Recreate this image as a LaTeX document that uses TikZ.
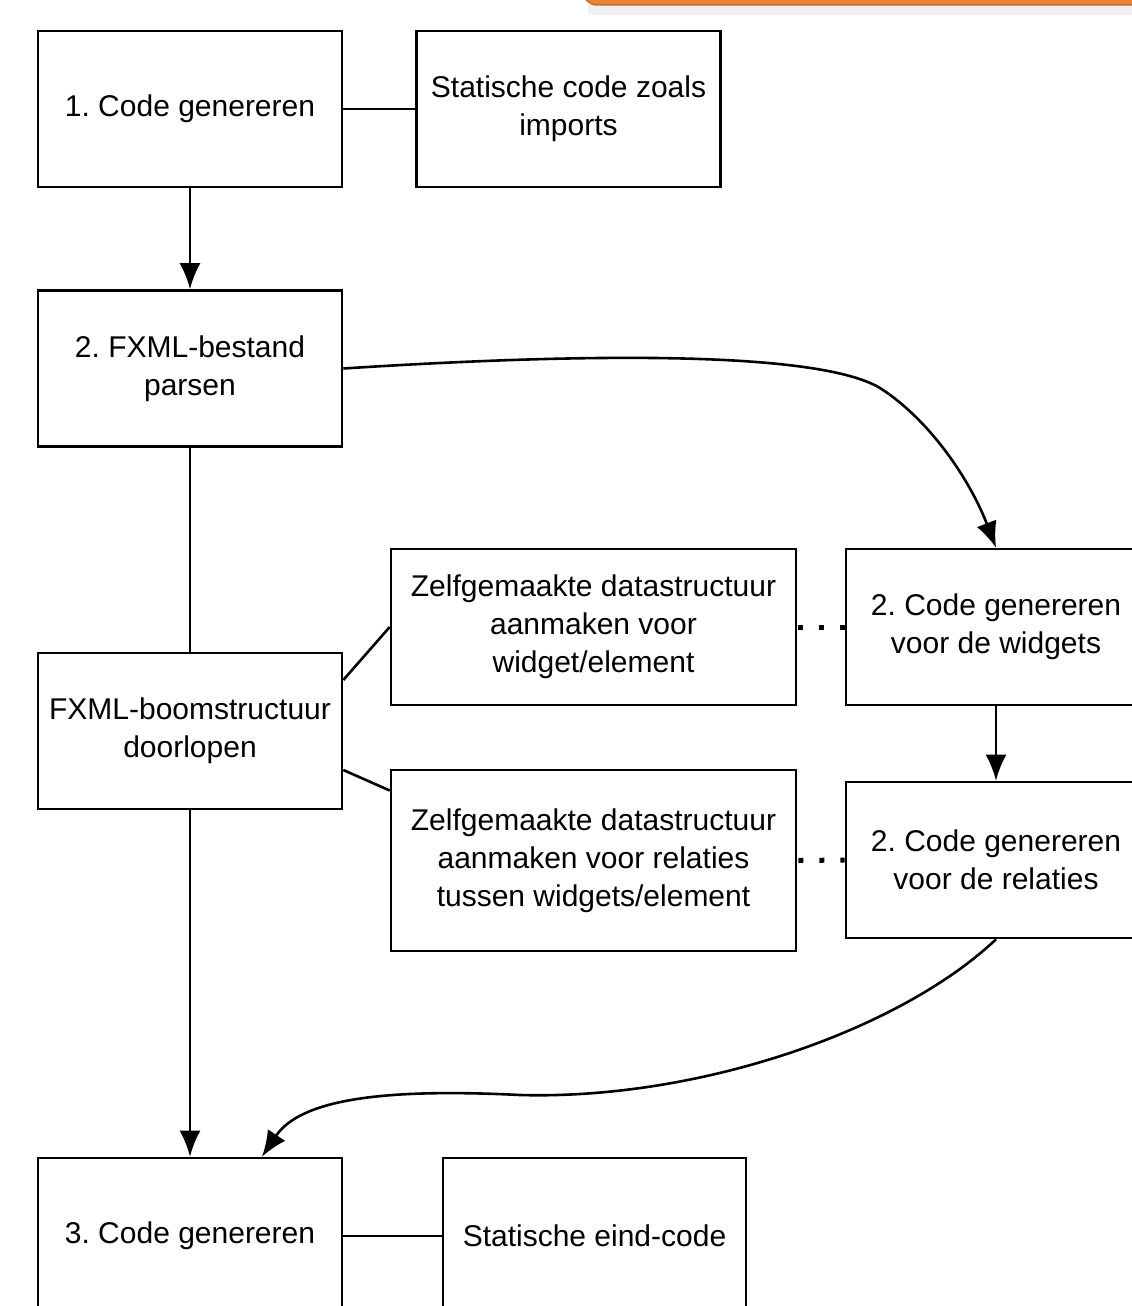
\documentclass[tikz,border=0pt]{standalone}
\usepackage{fontspec}
\setmainfont{Liberation Sans}
\frenchspacing
\usetikzlibrary{arrows.meta,calc}
\definecolor{barorange}{RGB}{232,131,58}
\definecolor{barborder}{RGB}{208,106,32}
\begin{document}
\begin{tikzpicture}[x=1pt,y=-1pt,
  box/.style={draw, line width=2.6pt, rectangle, align=center, inner sep=0pt,
    minimum width=304pt, minimum height=156pt, font=\fontsize{30}{38}\selectfont},
  conn/.style={line width=2.6pt},
  arr/.style={line width=2.6pt, -{Latex[length=26pt,width=21pt]}},
  dots/.style={line width=5pt, dash pattern=on 5pt off 16pt}
]
\useasboundingbox (0,0) rectangle (1132,1306);
\clip (0,0) rectangle (1132,1306);
% orange bar with shadow
\fill[black!12] (590,-30) rectangle (1200,12);
\fill[black!6] (588,-30) rectangle (1200,15);
\draw[barborder, fill=barorange, line width=1.5pt, rounded corners=14pt] (583,-40) rectangle (1200,5);

\node[box] (b1) at (190,109) {1. Code genereren};
\node[box] (s1) at (568.5,109) {Statische code zoals\\imports};
\node[box] (b2) at (190,368.5) {2. FXML-bestand\\parsen};
\node[box] (b3) at (190,731) {FXML-boomstructuur\\doorlopen};
\node[box, minimum width=405pt] (z1) at (593.5,627) {Zelfgemaakte datastructuur\\aanmaken voor\\widget/element};
\node[box, minimum width=405pt, minimum height=181pt] (z2) at (593.5,860.5) {Zelfgemaakte datastructuur\\aanmaken voor relaties\\tussen widgets/element};
\node[box, minimum width=300pt] (cw) at (996,627) {2. Code genereren\\voor de widgets};
\node[box, minimum width=300pt] (cr) at (996,860) {2. Code genereren\\voor de relaties};
\node[box] (b4) at (190,1236) {3. Code genereren};
\node[box, minimum width=303pt] (s2) at (594.5,1236) {Statische eind-code};

\draw[conn] (b1.east) -- (s1.west);
\draw[conn] (b4.east) -- (s2.west);
\draw[arr] (b1.south) -- (b2.north);
\draw[conn] (b2.south) -- (b3.north);
\draw[conn] ($(b3.east)+(0pt,51pt)$) -- (z1.west);
\draw[conn] ($(b3.east)+(0pt,-39pt)$) -- ($(z2.west)+(0pt,70pt)$);
\draw[dots] ($(z1.east)+(1pt,0pt)$) -- (cw.west);
\draw[dots] ($(z2.east)+(1pt,0pt)$) -- (cr.west);
\draw[arr] (cw.south) -- (cr.north);
\draw[arr] (b3.south) -- (b4.north);
\draw[arr] (b2.east) .. controls (600,352) and (820,352) .. (880,388)
  .. controls (930,420) and (970,480) .. (cw.north);
\draw[arr] (cr.south) .. controls (900,1030) and (700,1100) .. (520,1095)
  .. controls (380,1088) and (300,1100) .. ($(b4.north)+(72pt,0pt)$);
\end{tikzpicture}
\end{document}
